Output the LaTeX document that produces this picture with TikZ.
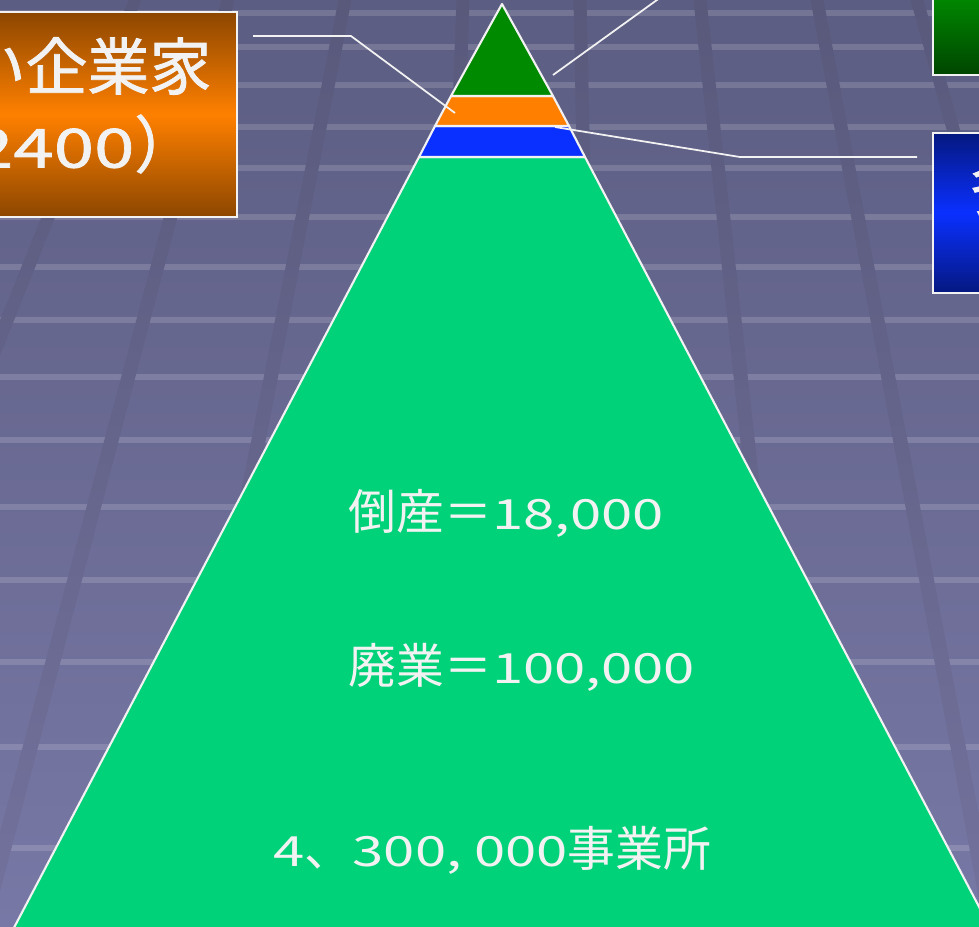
\documentclass[tikz,border=0pt]{standalone}
\usepackage{fontspec}
\setmainfont{Noto Sans CJK JP}
\newfontfamily\numfont[FakeStretch=1.35,Scale=0.87]{Noto Sans CJK JP}
\newfontfamily\heavyfont[FakeBold=1.3]{Noto Sans CJK JP}
\newfontfamily\heavynum[FakeBold=1.3,FakeStretch=1.35,Scale=0.87]{Noto Sans CJK JP}
\usetikzlibrary{positioning}

\definecolor{bgtop}{RGB}{92,93,130}
\definecolor{bgbot}{RGB}{120,120,166}
\definecolor{stripetop}{RGB}{89,89,124}
\definecolor{stripebot}{RGB}{114,114,157}
\definecolor{txtwhite}{RGB}{242,242,242}
\definecolor{topgreen}{RGB}{0,138,0}
\definecolor{bandorange}{RGB}{255,128,0}
\definecolor{bandblue}{RGB}{10,48,255}
\definecolor{basegreen}{RGB}{0,210,122}

\tikzset{
  tier/.style={draw=txtwhite, line width=0.6pt, line join=round},
  leader/.style={draw=txtwhite, line width=0.5pt},
  panel/.style={draw=txtwhite, line width=0.7pt},
  band/.style={white, opacity=0.15, line width=1.6pt},
  lbl/.style={text=txtwhite, inner sep=0pt, anchor=west, font=\fontsize{13.6}{16}\selectfont},
  boxlbl/.style={text=txtwhite, inner sep=0pt, font=\fontsize{17.6}{22.2}\selectfont\heavyfont}
}

\begin{document}
\begin{tikzpicture}[x=0.01cm, y=-0.01cm]
    \useasboundingbox (0,0) rectangle (979,926);
    \clip (0,0) rectangle (979,926);

    \shade[top color=bgtop, bottom color=bgbot] (0,0) rectangle (979,926);
    \foreach \y in {13,47,85,127,168,217,267,320,377,440,507,580,662,747,848}
        \draw[band] (0,\y) -- (979,\y);
    \begin{scope}
        \clip \foreach \a/\b in {135/-235, 228/-17, 345/163, 463/430, 580/600, 700/800, 817/992, 917/1176}
            {(\a-6.5,0) -- (\a+6.5,0) -- (\b+8,926) -- (\b-8,926) -- cycle};
        \shade[top color=stripetop, bottom color=stripebot] (0,0) rectangle (979,926);
    \end{scope}

    \draw[tier, fill=basegreen] (419,157) -- (585,157) -- (1007,960) -- (-3,960) -- cycle;
    \draw[tier, fill=bandblue] (435,126) -- (569,126) -- (585,157) -- (419,157) -- cycle;
    \draw[tier, fill=bandorange] (451,96) -- (553,96) -- (569,126) -- (435,126) -- cycle;
    \draw[tier, fill=topgreen] (502,4) -- (553,96) -- (451,96) -- cycle;

    \draw[panel, top color=bandorange!55!black, bottom color=bandorange!55!black, middle color=bandorange]
        (-60,12) rectangle (237,217);
    \draw[panel, top color=topgreen!50!black, bottom color=topgreen!50!black, middle color=topgreen]
        (933,-85) rectangle (1100,75);
    \draw[panel, top color=bandblue!50!black, bottom color=bandblue!50!black, middle color=bandblue]
        (933,133) rectangle (1100,293);

    \node[boxlbl, anchor=east] (newent) at (212,66) {い企業家};
    \node[boxlbl, anchor=east] (newnum) at (197,144) {{\heavynum 2400}）};
    \node[boxlbl, anchor=north west] (blueent) at (968,158) {多};

    \coordinate (l1) at (253,36);
    \coordinate (l2) at (351,36);
    \coordinate (l3) at (455,113);
    \coordinate (g1) at (553,75);
    \coordinate (g2) at (668,-8);
    \coordinate (b1) at (555,127);
    \coordinate (b2) at (740,157);
    \coordinate (b3) at (917,157);
    \draw[leader] (l1) -- (l2) -- (l3);
    \draw[leader] (g1) -- (g2);
    \draw[leader] (b1) -- (b2) -- (b3);

    \node[lbl] (bankrupt) at (348,513) {倒産＝{\numfont 18,000}};
    \node[lbl] (closed) at (348,667) {廃業＝{\numfont 100,000}};
    \node[lbl] (total) at (273,850) {{\numfont 4}、{\numfont 300, 000}事業所};
\end{tikzpicture}
\end{document}
